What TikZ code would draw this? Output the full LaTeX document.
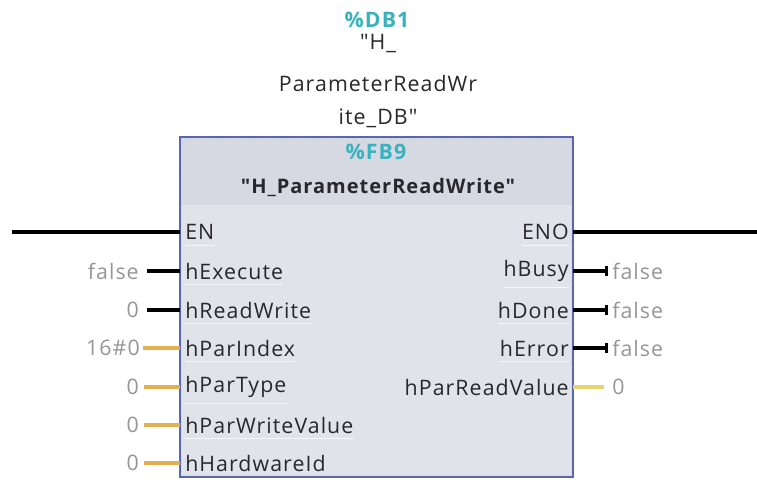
\documentclass[tikz,border=0pt]{standalone}
\usepackage{fontspec}
\setmainfont{Open Sans}[LetterSpace=5, Ligatures=TeXOff]
\usetikzlibrary{arrows.meta}
\definecolor{teal1}{RGB}{58,178,190}
\definecolor{valgray}{RGB}{150,150,150}
\definecolor{pintext}{RGB}{40,40,44}
\definecolor{bodyfill}{RGB}{225,227,235}
\definecolor{headfill}{RGB}{214,217,226}
\definecolor{frameblue}{RGB}{88,104,170}
\definecolor{wireorange}{RGB}{228,176,78}
\definecolor{wireyellow}{RGB}{232,212,110}
\tikzset{
  x=0.75pt, y=-0.75pt,
  pinfont/.style={font=\fontsize{16}{19}\selectfont, text=pintext, inner sep=0pt},
  inpin/.style={pinfont, anchor=west},
  outpin/.style={pinfont, anchor=east},
  valin/.style={font=\fontsize{16}{19}\selectfont, text=valgray, inner sep=0pt, anchor=east},
  valout/.style={font=\fontsize{16}{19}\selectfont, text=valgray, inner sep=0pt, anchor=west},
  boolwire/.style={line width=2.6pt, black},
  numwire/.style={line width=2.6pt, wireorange},
  outwire/.style={line width=2.6pt, black, -{Bar[width=8pt,line width=2.4pt]}},
  numout/.style={line width=2.6pt, wireyellow},
  sep/.style={white!70!bodyfill, line width=0.9pt},
  titletxt/.style={font=\fontsize{16}{19}\selectfont, text=pintext, inner sep=0pt},
  tealtxt/.style={font=\fontsize{16}{19}\selectfont\bfseries, text=teal1, inner sep=0pt},
}
\begin{document}
\begin{tikzpicture}
\useasboundingbox[fill=white] (0,0) rectangle (757,479);

% instance data block above the call
\node[tealtxt] (db) at (377,20) {\%DB1};
\node[titletxt] (db1) at (378,44) {"H\_};
\node[titletxt] (db2) at (378,83) {ParameterReadWr};
\node[titletxt] (db3) at (378,118) {ite\_DB"};

% block body and header band
\fill[bodyfill] (180,137) rectangle (573,477);
\fill[headfill] (180,137) rectangle (573,205);
\draw[frameblue, line width=1.1pt] (180,137) rectangle (573,477);
\draw[white!70!frameblue, line width=0.6pt, densely dotted] (181.5,138.5) rectangle (571.5,475.5);
\node[tealtxt] (fb) at (376,152) {\%FB9};
\node[titletxt, font=\fontsize{15}{18}\selectfont\bfseries] (fbname) at (378,187) {"H\_ParameterReadWrite"};

% input pins
\node[inpin] (en)   at (185,232) {EN};
\node[inpin] (hexe) at (185,271) {hExecute};
\node[inpin] (hrw)  at (185,310) {hReadWrite};
\node[inpin] (hpi)  at (185,348) {hParIndex};
\node[inpin] (hpt)  at (185,387) {hParType};
\node[inpin] (hpwv) at (185,425) {hParWriteValue};
\node[inpin] (hhw)  at (185,463) {hHardwareId};

% output pins
\node[outpin] (eno)  at (569,232) {ENO};
\node[outpin] (hbsy) at (569,271) {hBusy};
\node[outpin] (hdn)  at (569,310) {hDone};
\node[outpin] (herr) at (569,348) {hError};
\node[outpin] (hprv) at (569,387) {hParReadValue};

% faint separators under the pin names
\foreach \n in {en,hexe,hrw,hpi,hpt,hpwv} {
  \draw[sep] ([yshift=-4pt]\n.south west) -- ([yshift=-4pt]\n.south east);
}
\foreach \n in {eno,hbsy,hdn,herr} {
  \draw[sep] ([yshift=-4pt]\n.south west) -- ([yshift=-4pt]\n.south east);
}

% connection points on the frame
\coordinate (enL)   at (180,232);
\coordinate (hexeL) at (180,271);
\coordinate (hrwL)  at (180,310);
\coordinate (hpiL)  at (180,348);
\coordinate (hptL)  at (180,387);
\coordinate (hpwvL) at (180,425);
\coordinate (hhwL)  at (180,463);
\coordinate (enoR)  at (573,232);
\coordinate (hbsyR) at (573,271);
\coordinate (hdnR)  at (573,310);
\coordinate (herrR) at (573,348);
\coordinate (hprvR) at (573,387);

% free ends of the power rails
\coordinate (railL) at (12,232);
\coordinate (railR) at (757,232);

% actual parameters
\node[valin] (v1) at (139,271) {false};
\node[valin] (v2) at (139,310) {0};
\node[valin] (v3) at (140,348) {16\#0};
\node[valin] (v4) at (139,387) {0};
\node[valin] (v5) at (139,425) {0};
\node[valin] (v6) at (139,463) {0};
\node[valout] (o1) at (612,271) {false};
\node[valout] (o2) at (612,310) {false};
\node[valout] (o3) at (612,348) {false};
\node[valout] (o4) at (612,387) {0};

% wiring
\draw[boolwire] (railL) -- (enL);
\draw[boolwire] (enoR) -- (railR);
\draw[boolwire] ([xshift=6pt]v1.east|-hexeL) -- (hexeL);
\draw[boolwire] ([xshift=6pt]v2.east|-hrwL) -- (hrwL);
\draw[numwire] ([xshift=2pt]v3.east|-hpiL) -- (hpiL);
\draw[numwire] ([xshift=4pt]v4.east|-hptL) -- (hptL);
\draw[numwire] ([xshift=4pt]v5.east|-hpwvL) -- (hpwvL);
\draw[numwire] ([xshift=4pt]v6.east|-hhwL) -- (hhwL);
\draw[outwire] (hbsyR) -- ([xshift=-3pt]o1.west|-hbsyR);
\draw[outwire] (hdnR) -- ([xshift=-3pt]o2.west|-hdnR);
\draw[outwire] (herrR) -- ([xshift=-3pt]o3.west|-herrR);
\draw[numout] (hprvR) -- ([xshift=-6pt]o4.west|-hprvR);
\end{tikzpicture}
\end{document}
